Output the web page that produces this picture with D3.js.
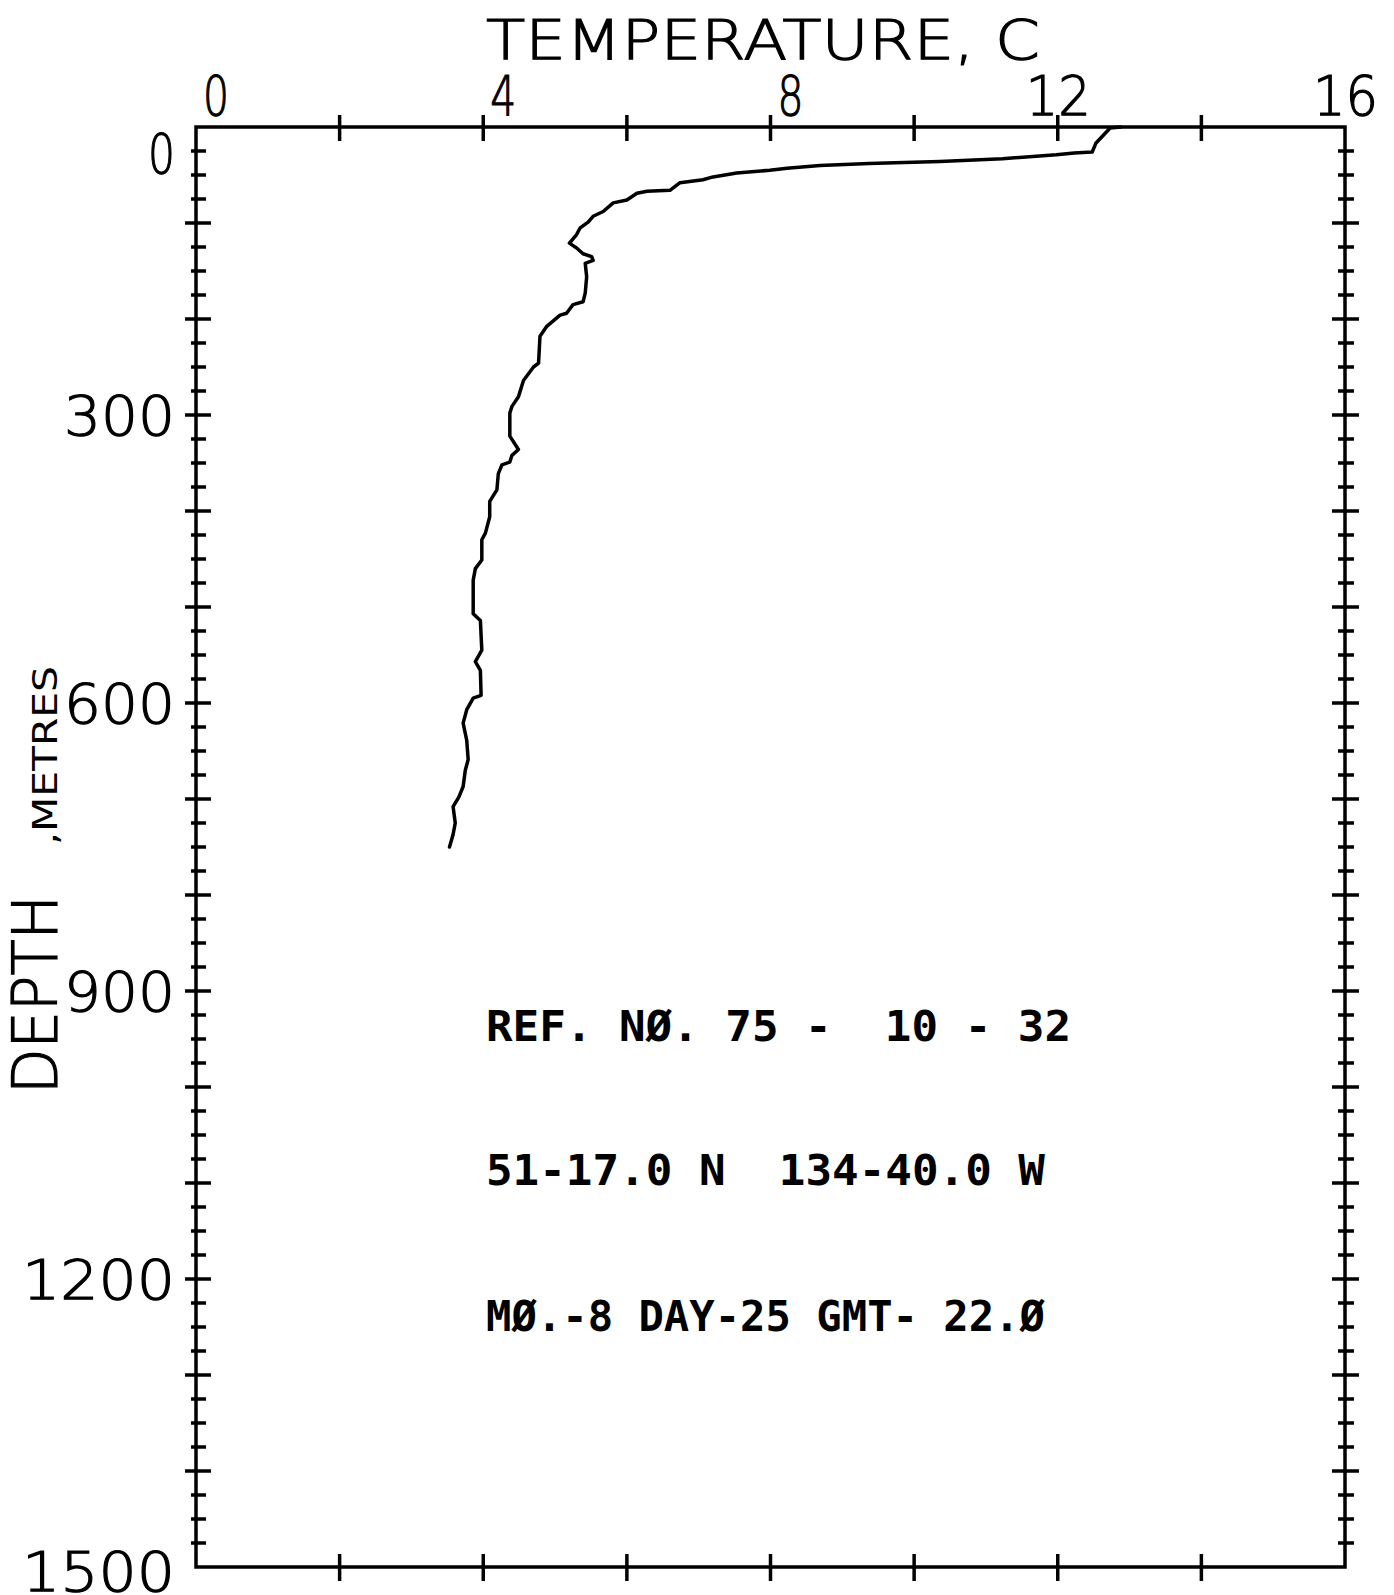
<!DOCTYPE html>
<html><head><meta charset="utf-8">
<script src="https://cdn.jsdelivr.net/npm/d3@7"></script>
<style>body{margin:0;background:#fff} svg{display:block} text{white-space:pre}</style>
</head><body>
<svg id="c" width="1394" height="1595"></svg>
<script>
// ---- data ----
const depth = [0,1,17,26,27,29,33,36,38,40,43,45,48,52,55,58,66,67,69,76,79,88,93,99,105,112,121,126,132,135,139,142,156,173,182,185,194,196,208,218,246,250,264,281,291,298,322,336,342,349,352,361,378,390,406,423,430,451,460,472,507,514,545,557,566,592,595,607,621,639,659,670,687,698,708,725,737,750];
const temperature = [12.88,12.73,12.53,12.48,12.23,11.98,11.23,10.36,9.37,8.69,8.23,7.99,7.53,7.2,7.06,6.74,6.6,6.28,6.14,6.0,5.81,5.67,5.53,5.46,5.35,5.3,5.2,5.3,5.39,5.51,5.53,5.42,5.44,5.42,5.39,5.25,5.16,5.07,4.88,4.79,4.77,4.7,4.56,4.49,4.4,4.37,4.37,4.49,4.4,4.37,4.26,4.21,4.19,4.09,4.09,4.03,3.98,3.98,3.89,3.86,3.86,3.96,3.98,3.89,3.96,3.97,3.86,3.77,3.72,3.77,3.79,3.75,3.72,3.66,3.58,3.61,3.58,3.53];

const tempDomain = [0, 16];
const depthDomain = [0, 1500];
const tempTickValues = [2, 4, 6, 8, 10, 12, 14];
const tempLabelValues = [0, 4, 8, 12, 16];
const tempLabels = ["0", "4", "8", "12", "16"];
const depthLabelValues = [0, 300, 600, 900, 1200, 1500];
const depthLabels = ["0", "300", "600", "900", "1200", "1500"];
const depthMinorStep = 25;
const depthMajorStep = 100;
const xTitle = "TEMPERATURE, C";
const yTitle = "DEPTH";
const yUnit = ",METRES";
const notes = ["REF. NØ. 75 -  10 - 32", "51-17.0 N  134-40.0 W", "MØ.-8 DAY-25 GMT- 22.Ø"];

// ---- layout ----
const svg = d3.select("#c");
const x = d3.scaleLinear().domain(tempDomain).range([196, 1345]);
const y = d3.scaleLinear().domain(depthDomain).range([127, 1567]);
const thin = "'DejaVu Sans', 'Liberation Sans', sans-serif";
const mono = "'DejaVu Sans Mono', 'Liberation Mono', monospace";

svg.append("rect").attr("width", 1394).attr("height", 1595).attr("fill", "#fff");

const g = svg.append("g").attr("stroke", "#000").attr("fill", "none").attr("stroke-width", 3.5);

// frame
g.append("path")
  .attr("d", `M${x(0)},${y(0)}H${x(16)}V${y(1500)}H${x(0)}Z`)
  .attr("stroke-linejoin", "miter");

// top / bottom ticks
g.selectAll(".tt").data(tempTickValues).enter().append("line")
  .attr("x1", d => x(d)).attr("x2", d => x(d))
  .attr("y1", y(0) - 12).attr("y2", y(0) + 14);
g.selectAll(".bt").data(tempTickValues).enter().append("line")
  .attr("x1", d => x(d)).attr("x2", d => x(d))
  .attr("y1", y(1500) - 13).attr("y2", y(1500) + 14);

// left / right ticks
const depthTicks = d3.range(depthMinorStep, depthDomain[1], depthMinorStep);
g.selectAll(".lt").data(depthTicks).enter().append("line")
  .attr("y1", d => y(d)).attr("y2", d => y(d))
  .attr("x1", d => x(0) - (d % depthMajorStep === 0 ? 11 : 5))
  .attr("x2", d => x(0) + (d % depthMajorStep === 0 ? 15 : 10));
g.selectAll(".rt").data(depthTicks).enter().append("line")
  .attr("y1", d => y(d)).attr("y2", d => y(d))
  .attr("x1", d => x(16) - (d % depthMajorStep === 0 ? 13 : 7))
  .attr("x2", d => x(16) + (d % depthMajorStep === 0 ? 14 : 9));

// profile
g.append("path")
  .datum(depth.map((d, i) => [temperature[i], d]))
  .attr("d", d3.line().x(d => x(d[0])).y(d => y(d[1])))
  .attr("stroke-width", 3.5).attr("stroke-linejoin", "round").attr("stroke-linecap", "round");

function thinText(sel, size) {
  return sel.attr("font-family", thin).attr("font-weight", 200).attr("font-size", size)
    .attr("fill", "#000").attr("stroke", "#000").attr("stroke-width", 1.2)
    .attr("lengthAdjust", "spacingAndGlyphs");
}

// top tick labels
thinText(svg.selectAll(".tl").data(tempLabelValues).enter().append("text"), 56)
  .attr("x", d => x(d) + 33).attr("y", 115)
  .attr("text-anchor", "end")
  .attr("textLength", (d, i) => 26 + (tempLabels[i].length - 1) * 39)
  .text((d, i) => tempLabels[i]);

// left tick labels
thinText(svg.selectAll(".ll").data(depthLabelValues).enter().append("text"), 56)
  .attr("x", 175)
  .attr("y", (d, i) => y(d) + (i === 0 ? 46 : i === depthLabelValues.length - 1 ? 24 : 20))
  .attr("text-anchor", "end")
  .attr("textLength", (d, i) => 27 + (depthLabels[i].length - 1) * 42)
  .text((d, i) => depthLabels[i]);

// axis titles
thinText(svg.append("text"), 56).attr("x", 486).attr("y", 59)
  .attr("textLength", 554)
  .text(xTitle);

thinText(svg.append("text"), 62).attr("transform", "translate(57,1094) rotate(-90)")
  .attr("textLength", 199)
  .text(yTitle);

svg.append("text").attr("transform", "translate(57,845) rotate(-90)")
  .attr("font-family", thin).attr("font-weight", 400).attr("font-size", 34)
  .attr("textLength", 179).attr("lengthAdjust", "spacingAndGlyphs")
  .text(yUnit);

// annotations
const noteY = [1041, 1185, 1331];
const noteW = [585, 559, 559];
svg.selectAll(".nt").data(notes).enter().append("text")
  .attr("x", 486).attr("y", (d, i) => noteY[i])
  .attr("font-family", mono).attr("font-weight", "bold").attr("font-size", 42)
  .attr("textLength", (d, i) => noteW[i]).attr("lengthAdjust", "spacingAndGlyphs")
  .text(d => d);
</script>
</body></html>
